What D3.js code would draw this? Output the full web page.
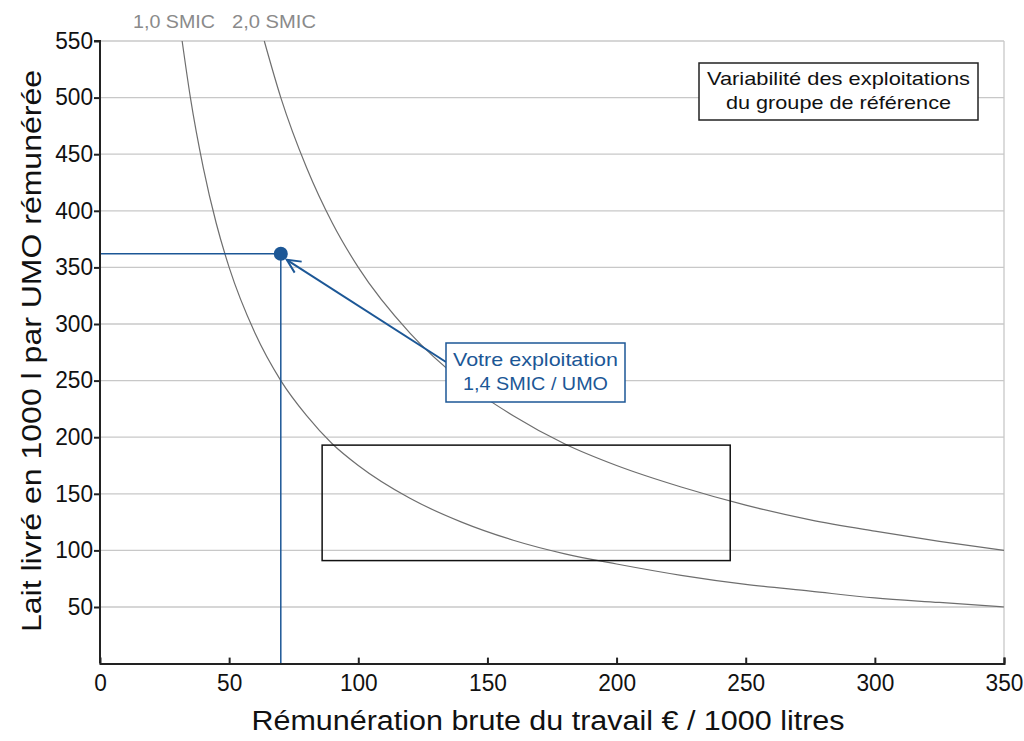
<!DOCTYPE html>
<html><head><meta charset="utf-8">
<script src="https://cdn.jsdelivr.net/npm/d3@7"></script>
<style>body{margin:0;background:#fff;} svg{display:block;font-family:"Liberation Sans",Arial,sans-serif;}</style>
</head><body>
<svg id="c" width="1024" height="741"></svg>
<script>
// Data
const xTicks = [0,50,100,150,200,250,300,350];
const yTicks = [50,100,150,200,250,300,350,400,450,500,550];
const smic1X = [31.8,35,40,45,50,60,70,80,90,100,120,140,160,180,200,225,250,275,300,325,350];
const smic1Y = [550,500,438,389,350,292,250,219,194,175,146,125,109,97,88,78,70,64,58,54,50];
const smic2X = [63.6,70,80,90,100,120,140,160,180,200,225,250,275,300,325,350];
const smic2Y = [550,500,438,389,350,292,250,219,194,175,156,140,127,117,108,100];
const curveLabels = ["1,0 SMIC","2,0 SMIC"];
const farmX = 70, farmY = 362;
const refBox = {x0:86, x1:244, y0:91, y1:193};
const farmLabel = ["Votre exploitation","1,4 SMIC / UMO"];
const legendLabel = ["Variabilité des exploitations","du groupe de référence"];
const xTitle = "Rémunération brute du travail € / 1000 litres";
const yTitle = "Lait livré en 1000 l par UMO rémunérée";

const svg = d3.select("#c");
const x = d3.scaleLinear().domain([0,350]).range([100,1004]);
const y = d3.scaleLinear().domain([0,550]).range([663.6,41]);
const blue = "#1c5796";

// gridlines
svg.append("g").selectAll("line").data(yTicks).join("line")
  .attr("x1",x(0)).attr("x2",x(350)).attr("y1",d=>y(d)).attr("y2",d=>y(d))
  .attr("stroke","#c8c8c8").attr("stroke-width",1.3);
svg.append("line").attr("x1",x(350)).attr("x2",x(350)).attr("y1",y(550)).attr("y2",y(0))
  .attr("stroke","#c8c8c8").attr("stroke-width",1.3);

// curves
const line = d3.line().x(d=>x(d[0])).y(d=>y(d[1])).curve(d3.curveMonotoneX);
[[smic1X,smic1Y],[smic2X,smic2Y]].forEach(([xs,ys])=>{
  svg.append("path").datum(xs.map((v,i)=>[v,ys[i]])).attr("d",line)
    .attr("fill","none").attr("stroke","#6e6e6e").attr("stroke-width",1.2);
});

// reference box
svg.append("rect").attr("x",x(refBox.x0)).attr("y",y(refBox.y1))
  .attr("width",x(refBox.x1)-x(refBox.x0)).attr("height",y(refBox.y0)-y(refBox.y1))
  .attr("fill","none").attr("stroke","#111").attr("stroke-width",1.5);

// farm lines
svg.append("line").attr("x1",x(0)).attr("x2",x(farmX)).attr("y1",y(farmY)).attr("y2",y(farmY))
  .attr("stroke",blue).attr("stroke-width",1.5);
svg.append("line").attr("x1",x(farmX)).attr("x2",x(farmX)).attr("y1",y(farmY)).attr("y2",y(0))
  .attr("stroke",blue).attr("stroke-width",1.5);

// axes
const xAxis = d3.axisBottom(x).tickValues(xTicks).tickSize(-6).tickPadding(11).tickFormat(d3.format("d"));
const gx = svg.append("g").attr("transform",`translate(0,${y(0)})`).call(xAxis);
gx.select(".domain").attr("stroke","#222").attr("stroke-width",2);
gx.selectAll(".tick line").attr("stroke","#222").attr("stroke-width",2);
gx.selectAll("text").attr("font-size",23).attr("fill","#111").attr("font-family","Liberation Sans, Arial")
  .attr("textLength",d=>String(d).length*12.6).attr("lengthAdjust","spacingAndGlyphs");
gx.selectAll(".tick").filter(d=>d===0).select("line").remove();

const yAxis = d3.axisLeft(y).tickValues(yTicks).tickSize(6).tickPadding(1).tickFormat(d3.format("d"));
const gy = svg.append("g").attr("transform",`translate(${x(0)},0)`).call(yAxis);
gy.select(".domain").attr("stroke","#222").attr("stroke-width",2).attr("d",`M-6,${y(550)}H0V${y(0)}`);
gy.selectAll(".tick line").attr("stroke","#222").attr("stroke-width",2);
gy.selectAll("text").attr("font-size",23).attr("fill","#111").attr("font-family","Liberation Sans, Arial")
  .attr("textLength",d=>String(d).length*12.6).attr("lengthAdjust","spacingAndGlyphs");

// arrow
const ax0 = 446, ay0 = 362;
const px = x(farmX)+6, py = y(farmY)+6;
svg.append("line").attr("x1",ax0).attr("y1",ay0).attr("x2",px).attr("y2",py)
  .attr("stroke",blue).attr("stroke-width",2);
const ang = Math.atan2(ay0-py, ax0-px);
const hl = 15, ha = 0.45;
svg.append("path").attr("d",`M${px+hl*Math.cos(ang-ha)},${py+hl*Math.sin(ang-ha)}L${px},${py}L${px+hl*Math.cos(ang+ha)},${py+hl*Math.sin(ang+ha)}`)
  .attr("fill","none").attr("stroke",blue).attr("stroke-width",2);

// point
svg.append("circle").attr("cx",x(farmX)).attr("cy",y(farmY)).attr("r",7).attr("fill",blue);

// farm label box
svg.append("rect").attr("x",446).attr("y",343).attr("width",179).attr("height",59)
  .attr("fill","#fff").attr("stroke",blue).attr("stroke-width",1.5);
const farmW = [165,145];
svg.append("g").selectAll("text").data(farmLabel).join("text")
  .attr("x",535.5).attr("y",(d,i)=>366+i*24).attr("text-anchor","middle")
  .attr("font-size",19).attr("fill",blue)
  .attr("textLength",(d,i)=>farmW[i]).attr("lengthAdjust","spacingAndGlyphs").text(d=>d);

// legend box
svg.append("rect").attr("x",699).attr("y",63).attr("width",279).attr("height",57)
  .attr("fill","#fff").attr("stroke","#222").attr("stroke-width",1.5);
const legW = [263,225];
svg.append("g").selectAll("text").data(legendLabel).join("text")
  .attr("x",838.5).attr("y",(d,i)=>85+i*24).attr("text-anchor","middle")
  .attr("font-size",19).attr("fill","#111")
  .attr("textLength",(d,i)=>legW[i]).attr("lengthAdjust","spacingAndGlyphs").text(d=>d);

// curve labels
svg.append("text").attr("x",133).attr("y",28).attr("font-size",18).attr("fill","#8a8a8a")
  .attr("textLength",82).attr("lengthAdjust","spacingAndGlyphs").text(curveLabels[0]);
svg.append("text").attr("x",232).attr("y",28).attr("font-size",18).attr("fill","#8a8a8a")
  .attr("textLength",84).attr("lengthAdjust","spacingAndGlyphs").text(curveLabels[1]);

// titles
svg.append("text").attr("x",548).attr("y",730).attr("text-anchor","middle")
  .attr("font-size",27).attr("fill","#111")
  .attr("textLength",593).attr("lengthAdjust","spacingAndGlyphs").text(xTitle);
svg.append("text").attr("transform","translate(41,351) rotate(-90)").attr("text-anchor","middle")
  .attr("font-size",27).attr("fill","#111")
  .attr("textLength",562).attr("lengthAdjust","spacingAndGlyphs").text(yTitle);
</script>
</body></html>
